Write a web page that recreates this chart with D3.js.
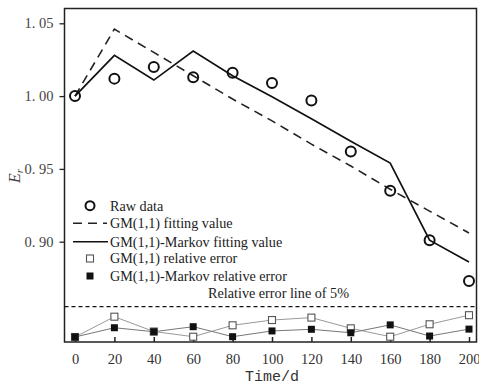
<!DOCTYPE html>
<html><head><meta charset="utf-8">
<script src="https://cdn.jsdelivr.net/npm/d3@7"></script>
<style>body{margin:0;background:#fff}svg{display:block}</style>
</head><body>
<svg id="c" width="479" height="387"></svg>
<script>
const days = [0,20,40,60,80,100,120,140,160,180,200];
const rawData = [1.000,1.012,1.020,1.013,1.016,1.009,0.997,0.962,0.935,0.901,0.873];
const gmFit = [1.000,1.046,1.030,1.014,0.998,0.983,0.967,0.952,0.936,0.921,0.906];
const markovFit = [1.000,1.028,1.011,1.031,1.014,0.9995,0.9845,0.969,0.954,0.901,0.886];
const gmErr = [0,3.35,0.9,0.05,1.93,2.8,3.2,1.43,0.05,2.1,3.6];
const markovErr = [0,1.53,0.87,1.7,0.05,1.0,1.27,0.7,2.0,0.16,1.3];
const yTicks = [0.90,0.95,1.00,1.05];
const yTickLabels = ["0. 90","0. 95","1. 00","1. 05"];
const errLimit = 5;

const svg = d3.select("#c");
const L = 64.5, R = 476.5, T = 8.5, B = 342;
const x = d3.scaleLinear().domain([0,200]).range([75,469]);
const y = d3.scaleLinear().domain([0.90,1.05]).range([241.7,23.3]);
const ye = d3.scaleLinear().domain([0,5]).range([337,306.7]);
const serif = "'Liberation Serif','Times New Roman',serif";

// frame
svg.append("rect").attr("x",L).attr("y",T).attr("width",R-L).attr("height",B-T)
  .attr("fill","none").attr("stroke","#222").attr("stroke-width",1.5);

// x axis ticks (inside)
const xAxis = d3.axisBottom(x).tickValues(days).tickSize(-5).tickPadding(12).tickFormat(d3.format("d"));
const gx = svg.append("g").attr("transform",`translate(0,${B})`).call(xAxis);
gx.select(".domain").remove();
gx.selectAll(".tick line").attr("stroke","#222").attr("stroke-width",1.5);
gx.selectAll(".tick text").attr("font-family",serif).attr("font-size",14.5).attr("fill","#333");

// y axis ticks (outside)
const yAxis = d3.axisLeft(y).tickValues(yTicks).tickSize(5).tickPadding(6).tickFormat((d,i)=>yTickLabels[i]);
const gy = svg.append("g").attr("transform",`translate(${L},0)`).call(yAxis);
gy.select(".domain").remove();
gy.selectAll(".tick line").attr("stroke","#222").attr("stroke-width",1.3);
gy.selectAll(".tick text").attr("font-family",serif).attr("font-size",14.5).attr("fill","#444");

// axis titles
svg.append("text").attr("x",272).attr("y",381).attr("text-anchor","middle")
  .attr("font-family","'Liberation Mono','DejaVu Sans Mono',monospace").attr("font-size",15).attr("fill","#333").text("Time/d");
const yl = svg.append("text").attr("transform","translate(20,176) rotate(-90)").attr("text-anchor","middle")
  .attr("font-family",serif).attr("font-size",16).attr("font-style","italic").attr("fill","#444");
yl.append("tspan").text("E");
yl.append("tspan").attr("font-size",11).attr("dy",3).text("r");

// 5% line
svg.append("line").attr("x1",L).attr("x2",R).attr("y1",ye(errLimit)).attr("y2",ye(errLimit))
  .attr("stroke","#111").attr("stroke-width",1.2).attr("stroke-dasharray","4,3");

// fitted lines
const line = d3.line().x((d,i)=>x(days[i])).y(d=>y(d));
svg.append("path").attr("d",line(gmFit)).attr("fill","none").attr("stroke","#222")
  .attr("stroke-width",1.6).attr("stroke-dasharray","9,6");
svg.append("path").attr("d",line(markovFit)).attr("fill","none").attr("stroke","#111")
  .attr("stroke-width",1.7);

// raw circles
svg.selectAll("circle.raw").data(rawData).enter().append("circle")
  .attr("cx",(d,i)=>x(days[i])).attr("cy",d=>y(d)).attr("r",5)
  .attr("fill","none").attr("stroke","#111").attr("stroke-width",2);

// error lines
const eline = d3.line().x((d,i)=>x(days[i])).y(d=>ye(d));
svg.append("path").attr("d",eline(gmErr)).attr("fill","none").attr("stroke","#999").attr("stroke-width",1);
svg.append("path").attr("d",eline(markovErr)).attr("fill","none").attr("stroke","#777").attr("stroke-width",1);
svg.selectAll("rect.ge").data(gmErr).enter().append("rect")
  .attr("x",(d,i)=>x(days[i])-3.5).attr("y",d=>ye(d)-3.5).attr("width",7).attr("height",7)
  .attr("fill","#fff").attr("stroke","#555").attr("stroke-width",1.1);
svg.selectAll("rect.me").data(markovErr).enter().append("rect")
  .attr("x",(d,i)=>x(days[i])-3.5).attr("y",d=>ye(d)-3.5).attr("width",7).attr("height",7)
  .attr("fill","#111");

// legend
const lg = svg.append("g").attr("font-family",serif).attr("font-size",14.2).attr("fill","#222");
const rows = [205.7,223.3,241.7,258.5,276];
lg.append("circle").attr("cx",90).attr("cy",rows[0]).attr("r",4.5).attr("fill","none").attr("stroke","#111").attr("stroke-width",2);
lg.append("line").attr("x1",73).attr("x2",107).attr("y1",rows[1]).attr("y2",rows[1]).attr("stroke","#222").attr("stroke-width",1.6).attr("stroke-dasharray","9,6");
lg.append("line").attr("x1",73).attr("x2",108).attr("y1",rows[2]).attr("y2",rows[2]).attr("stroke","#111").attr("stroke-width",1.6);
lg.append("rect").attr("x",86.5).attr("y",rows[3]-3.5).attr("width",7).attr("height",7).attr("fill","#fff").attr("stroke","#555").attr("stroke-width",1.1);
lg.append("rect").attr("x",86.5).attr("y",rows[4]-3.5).attr("width",7).attr("height",7).attr("fill","#111");
const labels = ["Raw data","GM(1,1) fitting value","GM(1,1)-Markov fitting value","GM(1,1) relative error","GM(1,1)-Markov relative error"];
labels.forEach((t,i)=>lg.append("text").attr("x",110).attr("y",rows[i]).attr("dy","0.35em").text(t));
lg.append("text").attr("x",208).attr("y",293).attr("dy","0.35em").text("Relative error line of 5%");
</script>
</body></html>
